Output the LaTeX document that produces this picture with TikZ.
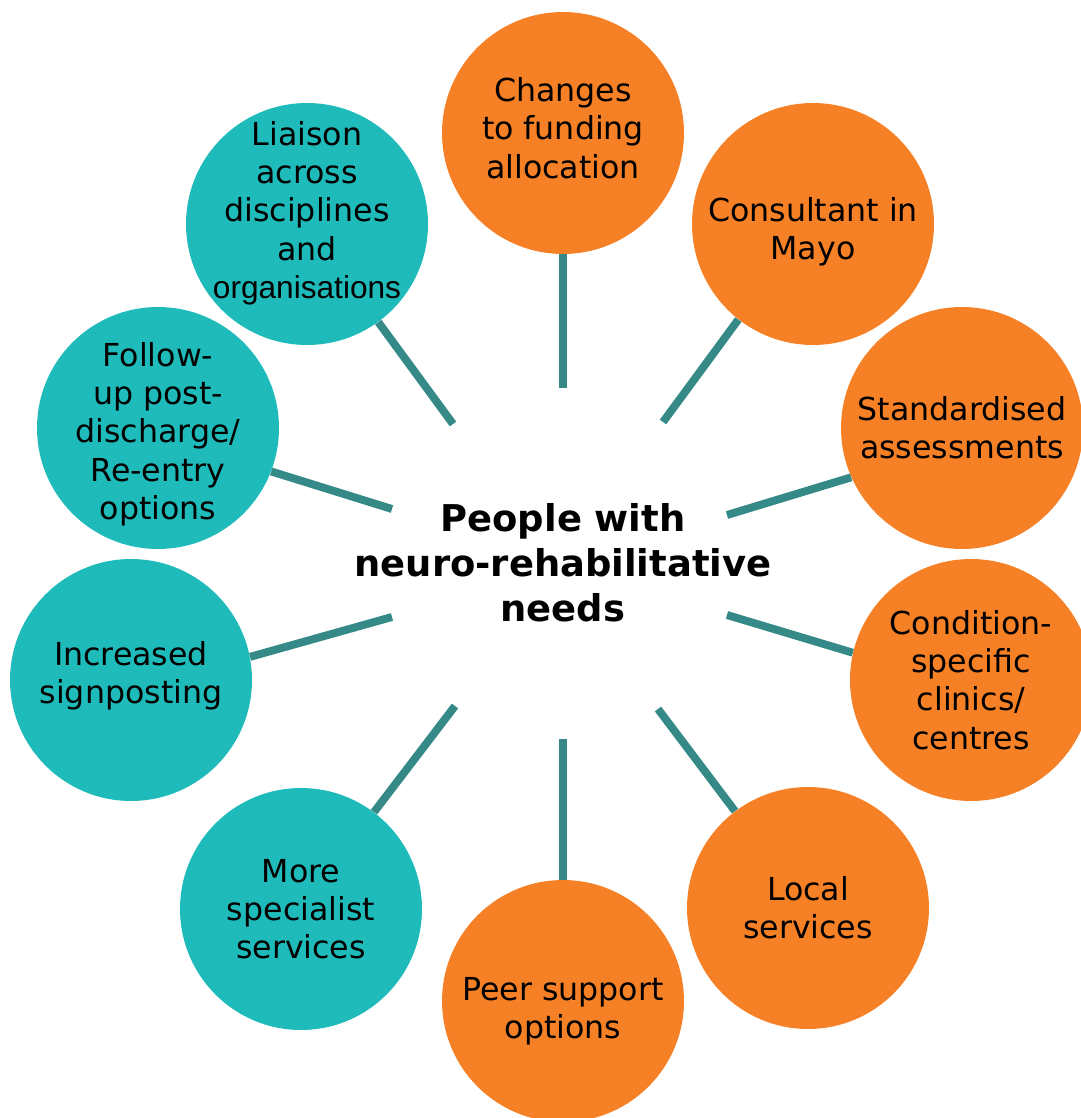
\documentclass[tikz,border=0pt]{standalone}
\usepackage{fontspec}
\setmainfont{DejaVu Sans}
\newfontfamily\narrowfont{Liberation Sans}
\usetikzlibrary{positioning}

\definecolor{needorange}{RGB}{245,128,37}
\definecolor{needteal}{RGB}{30,187,186}
\definecolor{spoke}{RGB}{53,138,136}

\tikzset{
    need/.style={circle, minimum size=4.84cm, inner sep=0pt},
    needtext/.style={align=center, inner sep=0pt,
        font=\fontsize{18}{21.8}\selectfont},
    orangeneed/.style={need, fill=needorange},
    tealneed/.style={need, fill=needteal},
    spokeline/.style={draw=spoke, line width=4.5pt}
}

\begin{document}
\begin{tikzpicture}[x=0.02cm, y=-0.02cm]
    \useasboundingbox (0, 0) rectangle (1080, 1118);

    \node [font=\bfseries\fontsize{21}{25.5}\selectfont, align=center]
        (people) at (563, 563) {People with\\neuro-rehabilitative\\needs};

    % inner ends of the spokes
    \coordinate (s1) at (563, 388);
    \coordinate (s2) at (663, 422);
    \coordinate (s3) at (727, 515);
    \coordinate (s4) at (727, 615);
    \coordinate (s5) at (658, 709);
    \coordinate (s6) at (563, 739);
    \coordinate (s7) at (455, 706);
    \coordinate (s8) at (392, 617);
    \coordinate (s9) at (392, 509);
    \coordinate (s10) at (453, 424);

    % orange circles
    \node [orangeneed, label={[needtext, yshift=0.1cm]center:Changes\\to funding\\allocation}]
        (funding) at (563, 133) {};
    \node [orangeneed, label={[needtext, yshift=-0.15cm]center:Consultant in\\Mayo}]
        (mayo) at (813, 224) {};
    \node [orangeneed, label={[needtext]center:Standardised\\assessments}]
        (assess) at (962, 428) {};
    \node [orangeneed, label={[needtext]center:Condition-\\specific\\clinics/\\centres}]
        (clinics) at (971, 680) {};
    \node [orangeneed, label={[needtext]center:Local\\services}]
        (local) at (808, 908) {};
    \node [orangeneed, label={[needtext, yshift=-0.2cm]center:Peer support\\options}]
        (peer) at (563, 1001) {};

    % teal circles
    \node [tealneed, label={[needtext]center:More\\specialist\\services}]
        (specialist) at (301, 909) {};
    \node [tealneed, label={[needtext, yshift=0.08cm]center:Increased\\signposting}]
        (signpost) at (131, 680) {};
    \node [tealneed, label={[needtext, yshift=-0.12cm]center:Follow-\\up post-\\discharge/\\Re-entry\\options}]
        (followup) at (158, 428) {};
    \node [tealneed, label={[needtext, yshift=0.22cm]center:Liaison\\across\\disciplines\\and\\{\narrowfont\fontsize{18}{21.8}\selectfont organisations}}]
        (liaison) at (307, 224) {};

    \foreach \s/\n in {s1/funding.270, s2/mayo.232, s3/assess.204, s4/clinics.167,
            s5/local.127, s6/peer.90, s7/specialist.53, s8/signpost.11,
            s9/followup.339, s10/liaison.306} {
        \path [spokeline] (\s) -- (\n);
    }
\end{tikzpicture}
\end{document}
